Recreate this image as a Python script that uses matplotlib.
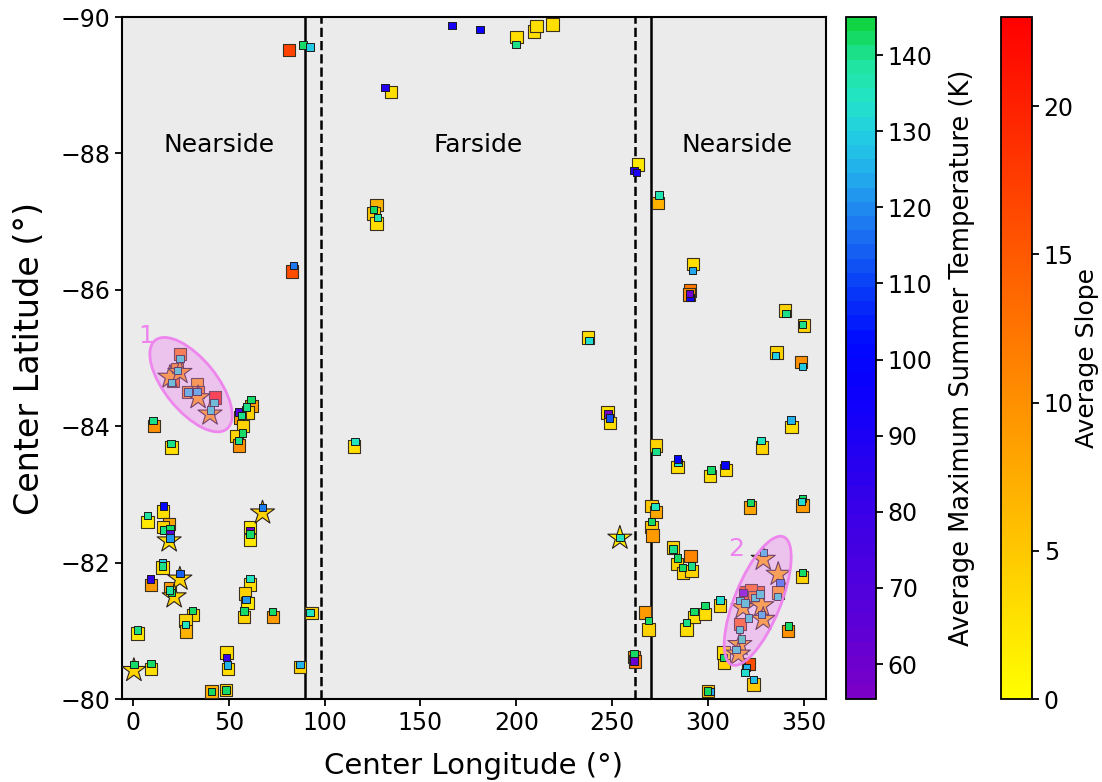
#!/usr/bin/env python3
# -*- coding:utf-8 -*-
"""
PSR locations near the south pole, coloured by slope and summer temperature
"""

import matplotlib
matplotlib.use("Agg")
import matplotlib.pyplot as plt
import numpy as np
from matplotlib.colors import LinearSegmentedColormap
from matplotlib.patches import Ellipse
from matplotlib.transforms import ScaledTranslation


# big squares: lon, lat, average slope
slope_lon = [81.4, 200.1, 209.3, 210.6, 218.9, 134.6, 263.5, 273.9, 127.1, 125.4, 127.1, 82.9,
             24.5, 23.1, 21.0, 33.5, 28.8, 34.0, 42.8,
             61.9, 60.1, 55.8, 57.5, 54.1, 55.4, 11.1, 20.1, 115.4,
             7.6, 15.8, 18.9, 15.8, 61.0, 61.0, 15.4, 9.4, 19.3, 31.4, 27.4, 27.6,
             61.0, 58.4, 59.8, 58.0, 73.1, 93.1, 2.3, 9.4, 48.9, 49.7, 41.0, 48.5, 87.1,
             237.4, 247.5, 249.0, 261.5, 262.0,
             267.1, 268.9, 270.6, 272.8, 270.6, 271.1, 272.8, 284.1, 301.0, 309.3, 328.0, 343.6,
             321.9, 349.3, 349.1, 341.8, 340.1, 350.2, 335.7, 348.5,
             281.8, 283.9, 287.0, 290.9, 291.4, 288.8, 292.6, 298.4, 306.2, 308.3, 308.1, 300.1,
             323.7, 292.3, 290.6, 290.2,
             326.2, 319.3, 322.5, 336.6, 316.6, 321.1, 324.0]
slope_lat = [-89.52, -89.71, -89.79, -89.87, -89.89, -88.90, -87.84, -87.27, -87.24, -87.12, -86.97, -86.27,
             -85.06, -84.84, -84.67, -84.62, -84.50, -84.50, -84.42,
             -84.30, -84.20, -84.13, -84.00, -83.86, -83.72, -84.00, -83.69, -83.70,
             -82.60, -82.75, -82.57, -82.52, -82.52, -82.33, -81.93, -81.67, -81.63, -81.23, -81.15, -80.99,
             -81.68, -81.55, -81.41, -81.20, -81.20, -81.26, -80.96, -80.44, -80.68, -80.44, -80.11, -80.13, -80.47,
             -85.30, -84.20, -84.05, -80.62, -80.55,
             -81.27, -81.02, -82.83, -82.74, -82.52, -82.40, -83.72, -83.40, -83.27, -83.36, -83.69, -83.99,
             -82.81, -82.84, -81.79, -81.00, -85.70, -85.48, -85.08, -84.94,
             -82.22, -81.98, -81.85, -82.10, -81.88, -81.02, -81.20, -81.25, -81.37, -80.53, -80.68, -80.12,
             -80.21, -86.38, -85.99, -85.93,
             -81.56, -81.56, -81.60, -81.56, -81.10, -80.51, -81.50]
slope_val = [17, 3, 3, 3, 3, 3, 2, 7, 7, 5, 3, 16,
             12, 10, 14, 8, 10, 12, 20,
             9, 4, 9, 4, 4, 10, 10, 3, 3,
             2, 3, 8, 4, 2, 2, 3, 9, 9, 4, 4, 7,
             3, 4, 2, 4, 9, 4, 2, 3, 3, 3, 7, 4, 4,
             3, 3, 3, 10, 12,
             9, 4, 5, 8, 5, 9, 4, 3, 3, 3, 4, 3,
             8, 9, 4, 10, 4, 4, 4, 10,
             4, 4, 4, 11, 4, 3, 3, 3, 4, 4, 3, 6,
             5, 3, 12, 10,
             14, 16, 13, 8, 14, 16, 12]

# stars (selected sites): lon, lat, average slope
star_lon = [19.3, 24.5, 34.0, 40.2, 18.9, 67.6, 24.5, 21.5, 0.5, 254.0,
            328.8, 336.6, 318.3, 328.0, 328.8, 316.6, 315.8]
star_lat = [-84.72, -84.79, -84.42, -84.18, -82.32, -82.73, -81.76, -81.50, -80.42, -82.36,
            -82.05, -81.83, -81.34, -81.37, -81.17, -80.80, -80.66]
star_val = [8, 9, 8, 8, 3, 4, 4, 4, 4, 2,
            7, 7, 7, 7, 7, 7, 7]

# small squares: lon, lat, average maximum summer temperature (K)
temp_lon = [88.7, 92.3, 166.4, 181.0, 199.8, 131.5, 261.4, 262.8, 274.4, 125.4, 127.5, 83.8,
            24.5, 23.3, 20.1, 28.8, 33.5, 42.3, 40.5,
            61.6, 59.2, 55.0, 56.6, 57.2, 55.0, 10.5, 19.8, 115.8,
            7.6, 15.8, 16.3, 19.3, 19.3, 19.3, 67.6, 61.0, 61.0, 15.4, 15.4, 9.2, 24.5,
            20.1, 19.0, 31.1, 27.4, 61.0, 58.9, 58.0, 72.9, 92.3, 2.3, 0.5, 9.4, 48.9,
            49.2, 41.0, 48.5, 87.1,
            237.9, 247.8, 248.5, 254.0, 261.3, 261.3,
            268.9, 272.3, 270.6, 272.8, 284.4, 284.1, 301.5, 308.8, 327.6, 343.2,
            322.3, 349.3, 348.9, 349.1, 341.8, 340.6, 349.1, 335.2, 349.1,
            281.8, 283.9, 286.7, 291.4, 288.8, 292.6, 298.4, 306.2, 308.1, 301.0, 299.6,
            291.8, 290.6, 290.2,
            328.8, 337.5, 336.1, 318.3, 316.6, 319.3, 324.5, 327.1, 328.0, 321.1, 316.3,
            317.5, 314.6, 320.2, 319.3, 323.7]
temp_lat = [-89.59, -89.56, -89.88, -89.82, -89.60, -88.97, -87.75, -87.72, -87.39, -87.18, -87.06, -86.36,
            -84.99, -84.82, -84.64, -84.50, -84.51, -84.35, -84.24,
            -84.39, -84.28, -84.21, -84.16, -83.90, -83.79, -84.08, -83.75, -83.78,
            -82.69, -82.83, -82.48, -82.50, -82.42, -82.36, -82.81, -82.47, -82.42, -82.00, -81.95, -81.76, -81.84,
            -81.56, -81.60, -81.30, -81.09, -81.77, -81.46, -81.29, -81.28, -81.27, -81.01, -80.51, -80.52, -80.61,
            -80.50, -80.11, -80.13, -80.51,
            -85.26, -84.18, -84.12, -82.37, -80.66, -80.56,
            -81.15, -82.82, -82.60, -83.63, -83.47, -83.52, -83.36, -83.43, -83.79, -84.09,
            -82.88, -82.94, -82.90, -81.86, -81.07, -85.65, -85.49, -85.04, -84.88,
            -82.20, -82.07, -81.93, -81.95, -81.12, -81.28, -81.37, -81.45, -80.61, -80.11, -80.12,
            -86.28, -85.89, -85.95,
            -82.15, -81.71, -81.50, -81.56, -81.44, -81.41, -81.49, -81.54, -81.24, -81.19, -81.02,
            -80.88, -80.73, -80.46, -80.39, -80.29]
temp_val = [143, 130, 92, 95, 141, 88, 88, 90, 137, 142, 136, 118,
            132, 133, 133, 130, 128, 133, 133,
            142, 141, 70, 140, 142, 140, 141, 141, 135,
            138, 100, 140, 142, 65, 122, 118, 60, 142, 130, 140, 82, 115,
            142, 138, 142, 134, 134, 122, 142, 142, 134, 141, 142, 142, 80,
            126, 143, 143, 126,
            133, 58, 112, 134, 142, 62,
            142, 134, 143, 141, 132, 100, 143, 98, 134, 125,
            142, 143, 132, 142, 142, 141, 141, 130, 130,
            141, 142, 142, 141, 141, 142, 143, 133, 142, 124, 143,
            124, 92, 60,
            130, 118, 132, 62, 133, 133, 133, 133, 128, 133, 133,
            137, 133, 126, 133, 128]

# temperature colour scale
temp_nodes = [55, 65, 80, 95, 102, 110, 118, 124, 130, 135, 140, 145]
temp_colors = ["#7a00c8", "#5a00d8", "#3800e8", "#0c00fc", "#0008ff", "#0a40f6",
               "#1e78f0", "#22a8ec", "#22cce4", "#24e4c4", "#1ee49c", "#10d444"]

# nearside / farside boundaries
boundary_lon = [90, 270]
limb_lon = [98, 262]

# highlighted groups: label, centre lon, centre lat, label lon, label lat
group_names = ["1", "2"]
group_lon = [30.3, 325.9]
group_lat = [-84.61, -81.44]
label_lon = [6.8, 314.6]
label_lat = [-85.33, -82.2]


def makeTempCmap():
    t0, t1 = temp_nodes[0], temp_nodes[-1]
    stops = [((t - t0) / (t1 - t0), c) for t, c in zip(temp_nodes, temp_colors)]
    return LinearSegmentedColormap.from_list("temp", stops, N=48)


def addGroup(ax, fig, name, lon, lat, llon, llat, w, h, ang):
    # ellipse size given in inches so it looks the same as on screen
    trans = fig.dpi_scale_trans + ScaledTranslation(lon, lat, ax.transData)
    ell = Ellipse((0, 0), w, h, angle=ang, transform=trans,
                  facecolor="violet", edgecolor="none", alpha=0.38, zorder=6)
    ax.add_patch(ell)
    ell = Ellipse((0, 0), w, h, angle=ang, transform=trans,
                  facecolor="none", edgecolor="violet", lw=2, alpha=0.95, zorder=6)
    ax.add_patch(ell)
    ax.text(llon, llat, name, color="violet", fontsize=18,
            ha="center", va="center", zorder=7)


if __name__ == "__main__":
    plt.rcParams["font.family"] = "DejaVu Sans"

    fig = plt.figure(figsize=(11.02, 7.82), dpi=100)
    ax = fig.add_axes([0.1107, 0.1061, 0.6388, 0.8721])
    cax1 = fig.add_axes([0.7677, 0.1061, 0.0272, 0.8721])
    cax2 = fig.add_axes([0.9083, 0.1061, 0.0281, 0.8721])

    ax.set_facecolor("#ebebeb")

    slope_cmap = plt.get_cmap("autumn_r")
    temp_cmap = makeTempCmap()

    sc_slope = ax.scatter(slope_lon, slope_lat, c=slope_val, cmap=slope_cmap,
                          vmin=0, vmax=23, marker="s", s=80,
                          edgecolors="#3a3020", linewidths=0.8, zorder=3)
    ax.scatter(star_lon, star_lat, c=star_val, cmap=slope_cmap,
               vmin=0, vmax=23, marker="*", s=330,
               edgecolors="#2a2020", linewidths=0.8, zorder=4)
    sc_temp = ax.scatter(temp_lon, temp_lat, c=temp_val, cmap=temp_cmap,
                         vmin=55.4, vmax=145, marker="s", s=28,
                         edgecolors="#1a1a1a", linewidths=0.7, zorder=5)

    for x in boundary_lon:
        ax.axvline(x, color="k", lw=1.8, zorder=2)
    for x in limb_lon:
        ax.axvline(x, color="k", lw=1.8, ls="--", zorder=2)

    ax.text(45, -88.13, "Nearside", fontsize=18, ha="center", va="center")
    ax.text(180, -88.13, "Farside", fontsize=18, ha="center", va="center")
    ax.text(315, -88.13, "Nearside", fontsize=18, ha="center", va="center")

    # ellipse shapes: width, height (inch), angle (deg)
    shapes = [(1.14, 0.52, -51), (1.38, 0.46, 68)]
    for i in range(len(group_names)):
        w, h, ang = shapes[i]
        addGroup(ax, fig, group_names[i], group_lon[i], group_lat[i],
                 label_lon[i], label_lat[i], w, h, ang)

    ax.set_xlim(-5.7, 361.5)
    ax.set_ylim(-80, -90)
    ax.set_xticks([0, 50, 100, 150, 200, 250, 300, 350])
    ax.set_yticks([-90, -88, -86, -84, -82, -80])
    ax.tick_params(labelsize=17, width=1.3, length=5)
    for sp in ax.spines.values():
        sp.set_linewidth(1.5)
    ax.set_xlabel("Center Longitude (°)", fontsize=21, labelpad=12)
    ax.set_ylabel("Center Latitude (°)", fontsize=24, labelpad=10)

    cb1 = fig.colorbar(sc_temp, cax=cax1)
    cb1.set_ticks([60, 70, 80, 90, 100, 110, 120, 130, 140])
    cb1.set_label("Average Maximum Summer Temperature (K)", fontsize=18.5, labelpad=12)
    cb1.ax.tick_params(labelsize=17, width=1.3, length=5)
    cb1.outline.set_linewidth(1.3)

    cb2 = fig.colorbar(sc_slope, cax=cax2)
    cb2.set_ticks([0, 5, 10, 15, 20])
    cb2.set_label("Average Slope", fontsize=18, labelpad=1)
    cb2.ax.tick_params(labelsize=17, width=1.3, length=5)
    cb2.outline.set_linewidth(1.3)

    fig.savefig("out.png", dpi=100, facecolor="white")
